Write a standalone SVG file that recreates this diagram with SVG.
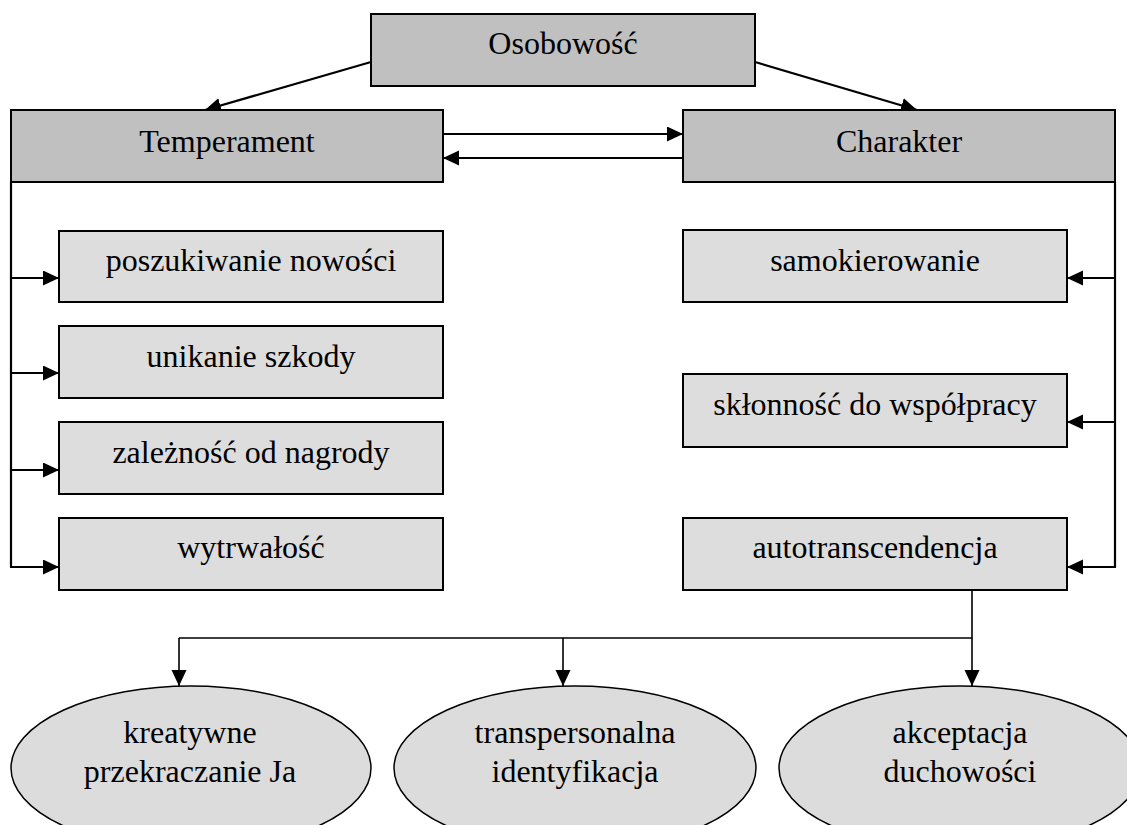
<svg xmlns="http://www.w3.org/2000/svg" width="1127" height="825" viewBox="0 0 1127 825">
<style>
.top{fill:#c0c0c0;stroke:#000;stroke-width:2}
.sub{fill:#dddddd;stroke:#000;stroke-width:2}
.ell{fill:#dcdcdc;stroke:#000;stroke-width:1.5}
.t{font-family:'Liberation Serif','DejaVu Serif','Noto Serif',serif;font-size:32px;fill:#000;text-anchor:middle}
.c{fill:none;stroke:#000;stroke-width:2.2}
.c2{fill:none;stroke:#000;stroke-width:1.6}
</style>
<defs>
<marker id="ah" markerUnits="userSpaceOnUse" markerWidth="17" markerHeight="16" refX="16" refY="7.5" orient="auto">
<path d="M0,0 L16,7.5 L0,15 z" fill="#000"/>
</marker>
</defs>
<rect width="1127" height="825" fill="#fff"/>
<g id="connectors">
<line class="c" x1="371" y1="62" x2="205" y2="110" marker-end="url(#ah)"/>
<line class="c" x1="755" y1="62" x2="917" y2="110" marker-end="url(#ah)"/>
<line class="c" x1="443" y1="134" x2="683" y2="134" marker-end="url(#ah)"/>
<line class="c" x1="683" y1="158" x2="443" y2="158" marker-end="url(#ah)"/>
<path class="c" d="M11,182 V567"/>
<line class="c" x1="10" y1="278" x2="59" y2="278" marker-end="url(#ah)"/>
<line class="c" x1="10" y1="373" x2="59" y2="373" marker-end="url(#ah)"/>
<line class="c" x1="10" y1="470" x2="59" y2="470" marker-end="url(#ah)"/>
<line class="c" x1="10" y1="567" x2="59" y2="567" marker-end="url(#ah)"/>
<path class="c" d="M1115,182 V567"/>
<line class="c" x1="1116" y1="278" x2="1067" y2="278" marker-end="url(#ah)"/>
<line class="c" x1="1116" y1="422" x2="1067" y2="422" marker-end="url(#ah)"/>
<line class="c" x1="1116" y1="567" x2="1067" y2="567" marker-end="url(#ah)"/>
<path class="c2" d="M972,590 V638 H179"/>
<line class="c2" x1="179" y1="638" x2="179" y2="686" marker-end="url(#ah)"/>
<line class="c2" x1="563" y1="638" x2="563" y2="686" marker-end="url(#ah)"/>
<line class="c2" x1="972" y1="638" x2="972" y2="686" marker-end="url(#ah)"/>
</g>
<g id="osobowosc"><rect class="top" x="371" y="14" width="384" height="72"/><text class="t" x="563" y="54">Osobowość</text></g>
<g id="temperament"><rect class="top" x="11" y="110" width="432" height="72"/><text class="t" x="227" y="152">Temperament</text></g>
<g id="charakter"><rect class="top" x="683" y="110" width="432" height="72"/><text class="t" x="899" y="152">Charakter</text></g>
<g id="poszukiwanie"><rect class="sub" x="59" y="231" width="384" height="71"/><text class="t" x="251" y="271">poszukiwanie nowości</text></g>
<g id="unikanie"><rect class="sub" x="59" y="326" width="384" height="72"/><text class="t" x="251" y="367">unikanie szkody</text></g>
<g id="zaleznosc"><rect class="sub" x="59" y="422" width="384" height="72"/><text class="t" x="251" y="463">zależność od nagrody</text></g>
<g id="wytrwalosc"><rect class="sub" x="59" y="518" width="384" height="72"/><text class="t" x="251" y="558">wytrwałość</text></g>
<g id="samokierowanie"><rect class="sub" x="683" y="230" width="384" height="72"/><text class="t" x="875" y="271">samokierowanie</text></g>
<g id="sklonnosc"><rect class="sub" x="683" y="374" width="384" height="73"/><text class="t" x="875" y="415">skłonność do współpracy</text></g>
<g id="autotranscendencja"><rect class="sub" x="683" y="518" width="384" height="72"/><text class="t" x="875" y="558">autotranscendencja</text></g>
<g id="kreatywne"><ellipse class="ell" cx="191" cy="768" rx="180" ry="82"/><text class="t" x="190" y="743">kreatywne</text><text class="t" x="190" y="782">przekraczanie Ja</text></g>
<g id="transpersonalna"><ellipse class="ell" cx="575" cy="768" rx="181" ry="82"/><text class="t" x="575" y="743">transpersonalna</text><text class="t" x="575" y="782">identyfikacja</text></g>
<g id="akceptacja"><ellipse class="ell" cx="960" cy="768" rx="181" ry="82"/><text class="t" x="960" y="743">akceptacja</text><text class="t" x="960" y="782">duchowości</text></g>
</svg>
